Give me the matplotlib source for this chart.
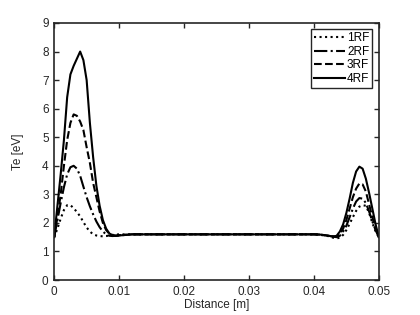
import matplotlib
matplotlib.use("Agg")
import matplotlib.pyplot as plt

plt.rcParams["font.family"] = ["Liberation Sans", "DejaVu Sans"]

# distance grid [m]
x = [0, 0.0005, 0.001, 0.0015, 0.002, 0.0025, 0.003, 0.0035, 0.004, 0.0045,
     0.005, 0.0055, 0.006, 0.0065, 0.007, 0.0075, 0.008, 0.0085, 0.009, 0.0095,
     0.01, 0.012, 0.02, 0.03, 0.04, 0.041,
     0.042, 0.043, 0.0435, 0.044, 0.0445, 0.045, 0.0455, 0.046, 0.0465, 0.047,
     0.0475, 0.048, 0.0485, 0.049, 0.0495, 0.05]

te_1rf = [1.5, 1.8, 2.15, 2.45, 2.62, 2.62, 2.52, 2.38, 2.23, 2.03,
          1.84, 1.7, 1.6, 1.56, 1.54, 1.53, 1.54, 1.56, 1.58, 1.59,
          1.6, 1.6, 1.6, 1.6, 1.6, 1.58,
          1.55, 1.48, 1.46, 1.48, 1.58, 1.75, 1.97, 2.2, 2.42, 2.57,
          2.62, 2.6, 2.35, 2.0, 1.7, 1.5]
te_2rf = [1.5, 2.1, 2.7, 3.25, 3.7, 3.95, 4.0, 3.9, 3.65, 3.27,
          2.9, 2.58, 2.3, 2.05, 1.85, 1.7, 1.6, 1.55, 1.54, 1.55,
          1.57, 1.6, 1.6, 1.6, 1.6, 1.59,
          1.56, 1.52, 1.5, 1.55, 1.7, 1.9, 2.2, 2.5, 2.75, 2.87,
          2.85, 2.7, 2.4, 2.05, 1.75, 1.5]
te_3rf = [1.5, 2.2, 3.0, 4.0, 4.9, 5.5, 5.8, 5.75, 5.55, 5.25,
          4.65, 4.1, 3.4, 2.9, 2.4, 2.0, 1.75, 1.62, 1.57, 1.55,
          1.56, 1.6, 1.6, 1.6, 1.6, 1.59,
          1.56, 1.53, 1.52, 1.6, 1.8, 2.1, 2.5, 2.9, 3.2, 3.38,
          3.35, 3.1, 2.65, 2.2, 1.8, 1.5]
te_4rf = [1.5, 2.6, 3.7, 4.9, 6.4, 7.2, 7.5, 7.75, 8.0, 7.7,
          7.0, 5.5, 4.3, 3.3, 2.6, 2.1, 1.8, 1.63, 1.57, 1.55,
          1.56, 1.6, 1.6, 1.6, 1.6, 1.59,
          1.56, 1.52, 1.55, 1.7, 1.95, 2.35, 2.85, 3.4, 3.8, 3.97,
          3.9, 3.55, 3.05, 2.5, 1.95, 1.5]

labels = ["1RF", "2RF", "3RF", "4RF"]
styles = [":", "-.", "--", "-"]

fig = plt.figure(figsize=(4.2, 3.15), dpi=100)
ax = fig.add_axes([0.129, 0.111, 0.773, 0.816])

for te, lab, ls in zip([te_1rf, te_2rf, te_3rf, te_4rf], labels, styles):
    ax.plot(x, te, ls, color="black", lw=1.5, label=lab)

ax.set_xlim(0, 0.05)
ax.set_ylim(0, 9)
ax.set_xticks([0, 0.01, 0.02, 0.03, 0.04, 0.05])
ax.set_xticklabels(["0", "0.01", "0.02", "0.03", "0.04", "0.05"])
ax.set_yticks(range(10))
ax.tick_params(direction="in", top=True, right=True, labelsize=8.5, length=3.5, width=1,
               colors="#262626", pad=4)
for s in ax.spines.values():
    s.set_linewidth(1.2)
    s.set_color("#262626")
ax.set_xlabel("Distance [m]", fontsize=8.5, color="#262626", labelpad=1)
ax.set_ylabel("Te [eV]", fontsize=8.5, color="#262626", labelpad=13)

leg = ax.legend(loc="upper right", fontsize=8.5, fancybox=False, edgecolor="#262626",
                handlelength=2.6, handletextpad=0.2, borderpad=0.25, labelspacing=0.12,
                borderaxespad=0.55, framealpha=1)
leg.get_frame().set_linewidth(1.0)

fig.savefig("out.png", dpi=100)
